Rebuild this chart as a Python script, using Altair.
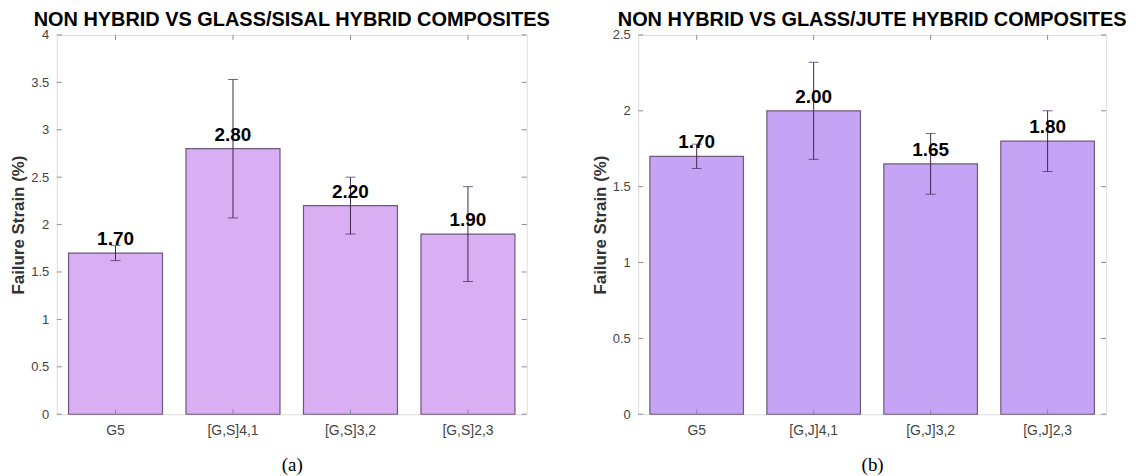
import altair as alt
import pandas as pd

# ---- data ----
cats_a = ["G5", "[G,S]4,1", "[G,S]3,2", "[G,S]2,3"]
vals_a = [1.70, 2.80, 2.20, 1.90]
errs_a = [0.08, 0.73, 0.30, 0.50]
yticks_a = [0, 0.5, 1, 1.5, 2, 2.5, 3, 3.5, 4]

cats_b = ["G5", "[G,J]4,1", "[G,J]3,2", "[G,J]2,3"]
vals_b = [1.70, 2.00, 1.65, 1.80]
errs_b = [0.08, 0.32, 0.20, 0.20]
yticks_b = [0, 0.5, 1, 1.5, 2, 2.5]

title_a = "NON HYBRID VS GLASS/SISAL HYBRID COMPOSITES"
title_b = "NON HYBRID VS GLASS/JUTE HYBRID COMPOSITES"
ylabel = "Failure Strain (%)"

H = 381
GRID = "#8c8c8c"
FONT = "Liberation Sans"


def panel(cats, vals, errs, yticks, ymax, color, title, caption, width):
    df = pd.DataFrame({
        "cat": cats,
        "val": vals,
        "lo": [v - e for v, e in zip(vals, errs)],
        "hi": [v + e for v, e in zip(vals, errs)],
    })
    tdf = pd.DataFrame({"t": yticks})

    xs = alt.Scale(domain=cats, paddingInner=0.2, paddingOuter=0.1)
    ys = alt.Scale(domain=[0, ymax], nice=False, zero=True)

    x = alt.X("cat:N", scale=xs, sort=cats, title=caption,
              axis=alt.Axis(labelAngle=0, domain=False, ticks=False,
                            labelFontSize=14, labelColor="#444444",
                            labelPadding=9, labelFont=FONT,
                            titleFont="Liberation Serif", titleFontSize=19,
                            titleFontWeight="normal", titleColor="#000000",
                            titlePadding=19))
    xx = alt.X("cat:N", scale=xs, sort=cats, title=caption)
    y = alt.Y("val:Q", scale=ys, title=ylabel,
              axis=alt.Axis(values=yticks, labelExpr="datum.value + ''",
                            domain=False, ticks=False, grid=False,
                            labelFontSize=13, labelColor="#444444",
                            labelPadding=8, labelFont=FONT,
                            titleFontSize=17, titleFont=FONT,
                            titleFontWeight="bold", titleColor="#333333",
                            titlePadding=3))

    bars = alt.Chart(df).mark_bar(color=color, stroke="#6b5a78",
                                  strokeWidth=1.2).encode(x=x, y=y)

    err = alt.Chart(df).mark_rule(color="#3f2450", strokeWidth=1).encode(
        x=xx, y=alt.Y("lo:Q", scale=ys, title=ylabel), y2="hi:Q")
    cap_lo = alt.Chart(df).mark_tick(color="#3f2450", size=10,
                                     thickness=1, orient="horizontal").encode(
        x=xx, y=alt.Y("lo:Q", scale=ys, title=ylabel))
    cap_hi = alt.Chart(df).mark_tick(color="#3f2450", size=10,
                                     thickness=1, orient="horizontal").encode(
        x=xx, y=alt.Y("hi:Q", scale=ys, title=ylabel))

    labels = alt.Chart(df).mark_text(baseline="bottom", dy=-4, fontSize=19,
                                     fontWeight="bold", font=FONT,
                                     color="#000000").encode(
        x=xx, y=alt.Y("val:Q", scale=ys, title=ylabel),
        text=alt.Text("val:Q", format=".2f"))

    # inward ticks on all four sides
    tk = dict(color=GRID, strokeWidth=1)
    t_bot = alt.Chart(df).mark_rule(**tk).encode(
        x=xx, y=alt.value(H), y2=alt.value(H - 5))
    t_top = alt.Chart(df).mark_rule(**tk).encode(
        x=xx, y=alt.value(0), y2=alt.value(5))
    t_left = alt.Chart(tdf).mark_rule(**tk).encode(
        y=alt.Y("t:Q", scale=ys, title=ylabel), x=alt.value(0), x2=alt.value(5))
    t_right = alt.Chart(tdf).mark_rule(**tk).encode(
        y=alt.Y("t:Q", scale=ys, title=ylabel), x=alt.value(width - 5),
        x2=alt.value(width))

    return alt.layer(bars, t_bot, t_top, t_left, t_right, err, cap_lo,
                     cap_hi, labels).properties(
        width=width, height=H,
        title=alt.TitleParams(title, fontSize=20, font=FONT,
                              fontWeight="bold", color="#000000",
                              anchor="middle", baseline="bottom",
                              offset=-21))


left = panel(cats_a, vals_a, errs_a, yticks_a, 4, "#d9aef3", title_a,
             "(a)", 472)
right = panel(cats_b, vals_b, errs_b, yticks_b, 2.5, "#c6a4f5", title_b,
              "(b)", 470)

chart = alt.hconcat(left, right, spacing=112, bounds="flush").properties(
    padding={"left": 1, "top": 0, "right": 0, "bottom": 0}
).configure_view(stroke=GRID, strokeWidth=1).configure(font=FONT)

chart.save("out.html", embed_options={"renderer": "svg", "actions": False})
